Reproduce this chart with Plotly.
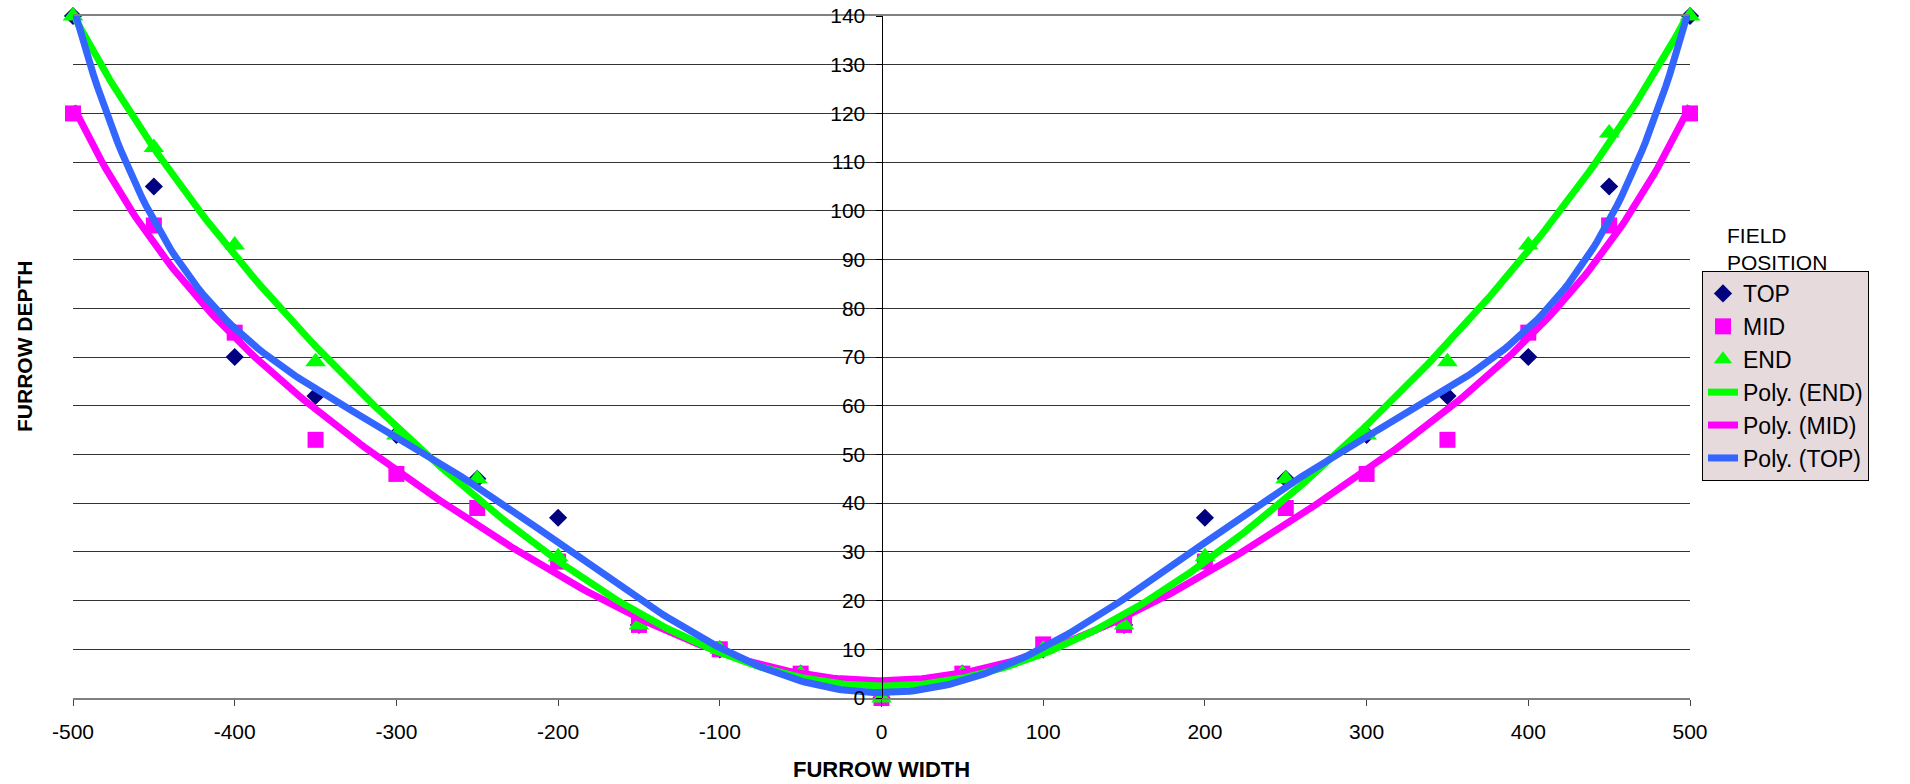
import numpy as np
import plotly.graph_objects as go

# ---- data ----
furrow_width = [-500, -450, -400, -350, -300, -250, -200, -150, -100, -50, 0,
                50, 100, 150, 200, 250, 300, 350, 400, 450, 500]
top_depth = [140, 105, 70, 62, 54, 45, 37, 15, 10, 5, 0,
             5, 10, 15, 37, 45, 54, 62, 70, 105, 140]
mid_depth = [120, 97, 75, 53, 46, 39, 28, 15, 10, 5, 0,
             5, 11, 15, 28, 39, 46, 53, 75, 97, 120]
end_depth = [140, 113, 93, 69, 54, 45, 29, 15, 10, 5, 0,
             5, 10, 15, 29, 45, 54, 69, 93, 116, 140]
x_ticks = [-500, -400, -300, -200, -100, 0, 100, 200, 300, 400, 500]
x_tick_labels = ["-500", "-400", "-300", "-200", "-100", "0",
                 "100", "200", "300", "400", "500"]
y_ticks = [0, 10, 20, 30, 40, 50, 60, 70, 80, 90, 100, 110, 120, 130, 140]
poly_order = 6

FONT = "Liberation Sans, Arial, sans-serif"
C_TOP = "#000080"
C_MID = "#FF00FF"
C_END = "#00FF00"
C_TOPLINE = "#3366FF"

xs = np.linspace(-500, 500, 401)


def trend(y):
    coef = np.polyfit(furrow_width, y, poly_order)
    return np.polyval(coef, xs)


fig = go.Figure()
fig.add_trace(go.Scatter(x=furrow_width, y=top_depth, mode="markers", name="TOP",
                         marker=dict(symbol="diamond", color=C_TOP, size=14),
                         cliponaxis=False, legendrank=1))
fig.add_trace(go.Scatter(x=furrow_width, y=mid_depth, mode="markers", name="MID",
                         marker=dict(symbol="square", color=C_MID, size=16),
                         cliponaxis=False, legendrank=2))
fig.add_trace(go.Scatter(x=furrow_width, y=end_depth, mode="markers", name="END",
                         marker=dict(symbol="triangle-up", color=C_END, size=18),
                         cliponaxis=False, legendrank=3))
fig.add_trace(go.Scatter(x=xs, y=trend(mid_depth), mode="lines", name="Poly. (MID)",
                         line=dict(color=C_MID, width=7), cliponaxis=False, legendrank=5))
fig.add_trace(go.Scatter(x=xs, y=trend(end_depth), mode="lines", name="Poly. (END)",
                         line=dict(color=C_END, width=7), cliponaxis=False, legendrank=4))
fig.add_trace(go.Scatter(x=xs, y=trend(top_depth), mode="lines", name="Poly. (TOP)",
                         line=dict(color=C_TOPLINE, width=7), cliponaxis=False, legendrank=6))

W, H = 1910, 784
ML, MR, MT, MB = 73, 220, 16, 86
pw, ph = W - ML - MR, H - MT - MB


def px_x(p):
    return (p - ML) / pw


def px_y(p):
    return (H - MB - p) / ph


fig.update_layout(
    width=W, height=H, autosize=False,
    margin=dict(l=ML, r=MR, t=MT, b=MB, pad=0, autoexpand=False),
    paper_bgcolor="white", plot_bgcolor="white",
    font=dict(family=FONT, size=21, color="black"),
    xaxis=dict(range=[-500, 500], tickvals=x_ticks, ticktext=x_tick_labels,
               ticks="outside", ticklen=6,
               tickcolor="#444", showline=True, linecolor="#808080", linewidth=2,
               mirror=True, automargin=False,
               showgrid=False, zeroline=False, tickfont=dict(size=21),
               ticklabelstandoff=8),
    yaxis=dict(range=[0, 140], tickvals=y_ticks, anchor="free", position=0.5,
               side="left", showline=True, linecolor="black", linewidth=1,
               ticks="outside", ticklen=6, tickcolor="black", automargin=False,
               showgrid=True, gridcolor="#333", gridwidth=1, zeroline=False,
               tickfont=dict(size=21), ticklabelstandoff=6),
    yaxis2=dict(range=[0, 140], overlaying="y", anchor="x", side="left",
                showline=True, mirror=True, linecolor="#808080", linewidth=2,
                automargin=False,
                showticklabels=False, ticks="", showgrid=False, zeroline=False),
    legend=dict(x=px_x(1702), y=px_y(271), xanchor="left", yanchor="top",
                bgcolor="#E6DADD", bordercolor="black", borderwidth=1,
                font=dict(size=23, family=FONT), traceorder="normal"),
    annotations=[
        dict(text="<b>FURROW DEPTH</b>", textangle=-90, xref="paper", yref="paper",
             x=px_x(24), y=px_y(346), xanchor="center", yanchor="middle",
             showarrow=False, font=dict(size=21)),
        dict(text="<b>FURROW WIDTH</b>", xref="paper", yref="paper",
             x=0.5, y=px_y(770), xanchor="center", yanchor="middle",
             showarrow=False, font=dict(size=22)),
        dict(text="FIELD<br>POSITION", xref="paper", yref="paper", align="left",
             x=px_x(1725), y=px_y(222), xanchor="left", yanchor="top",
             showarrow=False, font=dict(size=21)),
    ],
)

fig.write_html("out.html", config={"displayModeBar": False},
               post_script="document.body.style.margin='0';")
